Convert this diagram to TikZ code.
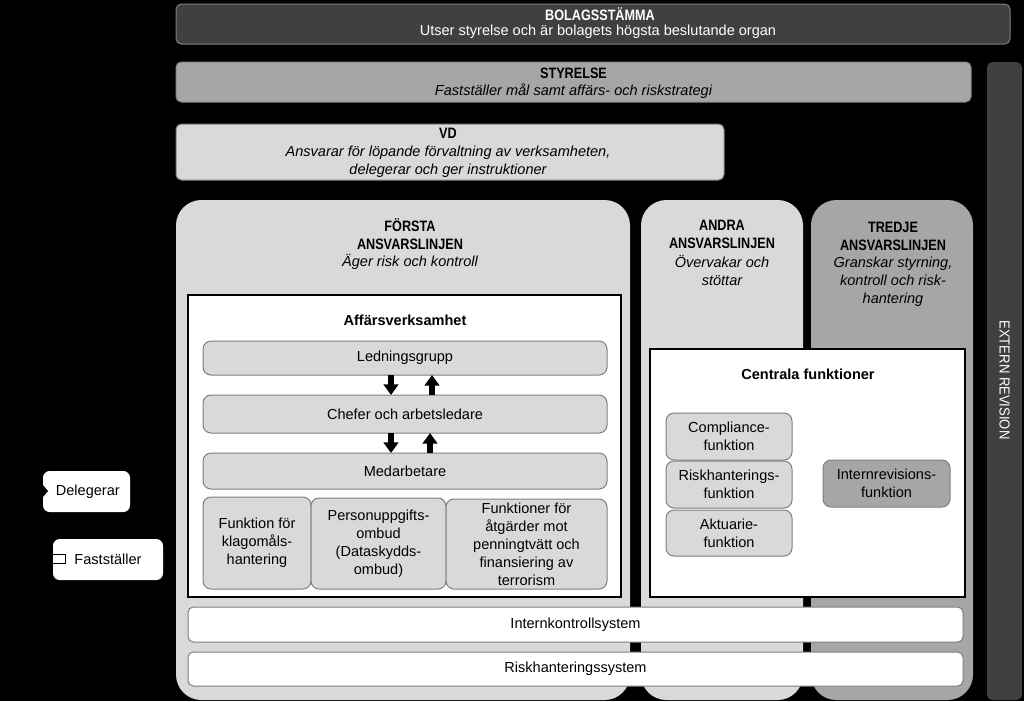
\documentclass[tikz,border=0pt]{standalone}
\usepackage{fontspec}
\setmainfont{Liberation Sans}
\newfontfamily\hdfont[FakeStretch=0.84]{Liberation Sans Bold}
\newfontfamily\nrfont[FakeStretch=0.9]{Liberation Sans}
\usetikzlibrary{arrows.meta,calc}
\definecolor{dk}{HTML}{404040}
\definecolor{md}{HTML}{A6A6A6}
\definecolor{lt}{HTML}{D9D9D9}
\definecolor{bd}{HTML}{7F7F7F}
\tikzset{
  sz/.style 2 args={minimum width=#1*0.75pt, minimum height=#2*0.75pt},
  base/.style={inner sep=0pt, outer sep=0pt, rectangle},
  bar/.style={base, rounded corners=4pt, draw=bd, line width=0.75pt},
  panel/.style={base, rounded corners=19pt},
  wbox/.style={base, fill=white, draw=black, line width=0.9pt},
  gbox/.style={base, rounded corners=6pt, fill=lt, draw=bd, line width=0.75pt, align=center, font=\fontsize{10.9}{13.5}\selectfont},
  txt/.style={align=center, inner sep=0pt, font=\fontsize{10.9}{13.5}\selectfont},
  hd/.style={align=center, inner sep=0pt, font=\fontsize{11.3}{13.5}\hdfont},
  blk/.style={line width=4pt, -{Triangle[length=8pt,width=11pt]}},
  leg/.style={base, rounded corners=5pt, fill=white, align=center, font=\fontsize{10.9}{13.5}\selectfont},
}
\begin{document}
\begin{tikzpicture}[x=0.75pt,y=-0.75pt]
\fill[black] (0,0) rectangle (1024,701);
\useasboundingbox (0,0) rectangle (1024,701);

% top bars
\node[bar, fill=dk, sz={834}{40}] (bol) at (593,24) {};
\node[hd, text=white] (bolt) at (600,14.5) {BOLAGSSTÄMMA};
\node[txt, text=white] (bols) at (598,32) {Utser styrelse och är bolagets högsta beslutande organ};

\node[bar, fill=md, draw=md!80!black, sz={795}{40}] (sty) at (573.5,82) {};
\node[hd] (styt) at (573.5,73) {STYRELSE};
\node[txt] (stys) at (573.5,91) {\itshape Fastställer mål samt affärs- och riskstrategi};

\node[bar, fill=lt, draw=bd, sz={548}{56}] (vd) at (450,152) {};
\node[hd] (vdt) at (448,133) {VD};
\node[txt] (vds) at (448,162) {\itshape Ansvarar för löpande förvaltning av verksamheten,\\\itshape delegerar och ger instruktioner};

% extern revision
\node[base, rounded corners=4pt, fill=dk, sz={35}{638}] (ext) at (1004.5,381) {};
\node[txt, text=white, rotate=-90, font=\fontsize{10.9}{13.5}\nrfont] (extt) at (1004.5,380) {EXTERN REVISION};

% panels
\node[panel, fill=lt, sz={454}{500}] (p1) at (403,450) {};
\node[panel, fill=lt, sz={162}{500}] (p2) at (722,450) {};
\node[panel, fill=md, sz={162}{500}] (p3) at (892,450) {};

\node[hd] (p1t) at (410,234.5) {FÖRSTA\\ANSVARSLINJEN};
\node[txt] (p1s) at (410,262) {\itshape Äger risk och kontroll};
\node[hd] (p2t) at (722,234) {ANDRA\\ANSVARSLINJEN};
\node[txt] (p2s) at (722,270) {\itshape Övervakar och\\\itshape stöttar};
\node[hd] (p3t) at (893,236) {TREDJE\\ANSVARSLINJEN};
\node[txt] (p3s) at (893,282) {\itshape Granskar styrning,\\\itshape kontroll och risk-\\\itshape hantering};

% Affärsverksamhet
\node[wbox, sz={433}{302}] (aff) at (404.5,446) {};
\node[txt, font=\fontsize{10.9}{13.5}\selectfont\bfseries] (afft) at (405,320) {Affärsverksamhet};
\node[gbox, sz={404}{34}] (led) at (405,358) {Ledningsgrupp};
\node[gbox, sz={404}{38}] (che) at (405,414) {Chefer och arbetsledare};
\node[gbox, sz={404}{36}] (med) at (405,471) {Medarbetare};
\node[gbox, sz={108}{92}] (f1) at (257,543) {Funktion för\\klagomåls-\\hantering};
\node[gbox, sz={135}{91}] (f2) at (378.5,543.5) {Personuppgifts-\\ombud\\(Dataskydds-\\ombud)};
\node[gbox, sz={161}{90}] (f3) at (526.5,544) {Funktioner för\\åtgärder mot\\penningtvätt och\\finansiering av\\terrorism};

\draw[blk] ($(led.south)+(-14,0)$) -- ($(che.north)+(-14,0)$);
\draw[blk] ($(che.north)+(27,0)$) -- ($(led.south)+(27,0)$);
\draw[blk] ($(che.south)+(-14,0)$) -- ($(med.north)+(-14,0)$);
\draw[blk] ($(med.north)+(25,0)$) -- ($(che.south)+(25,0)$);

% Centrala funktioner
\node[wbox, sz={315}{248}] (cen) at (807.5,473) {};
\node[txt, font=\fontsize{10.9}{13.5}\selectfont\bfseries] (cent) at (808,374) {Centrala funktioner};
\node[gbox, sz={126}{47}] (com) at (729,436.5) {Compliance-\\funktion};
\node[gbox, sz={126}{47}] (rsk) at (729,484.5) {Riskhanterings-\\funktion};
\node[gbox, sz={126}{46}] (akt) at (729,533) {Aktuarie-\\funktion};
\node[gbox, fill=md, sz={127}{47}] (irv) at (886.5,483.5) {Internrevisions-\\funktion};

% system bars
\node[bar, fill=white, sz={775}{35}, font=\fontsize{10.9}{13.5}\selectfont] (iks) at (575.5,624.5) {Internkontrollsystem};
\node[bar, fill=white, sz={775}{34}, font=\fontsize{10.9}{13.5}\selectfont] (rhs) at (575.5,669) {Riskhanteringssystem};

% legend
\node[leg, sz={87}{41}] (del) at (86.5,491.5) {\hspace*{2pt}Delegerar};
\fill[black] (43,485) -- (48,491) -- (43,497) -- cycle;
\node[leg, sz={110}{41}] (fas) at (108,559.5) {Fastställer};
\node[base, fill=white, draw=black, line width=0.6pt, sz={13}{9}] (fasi) at (59,559) {};
\end{tikzpicture}
\end{document}
